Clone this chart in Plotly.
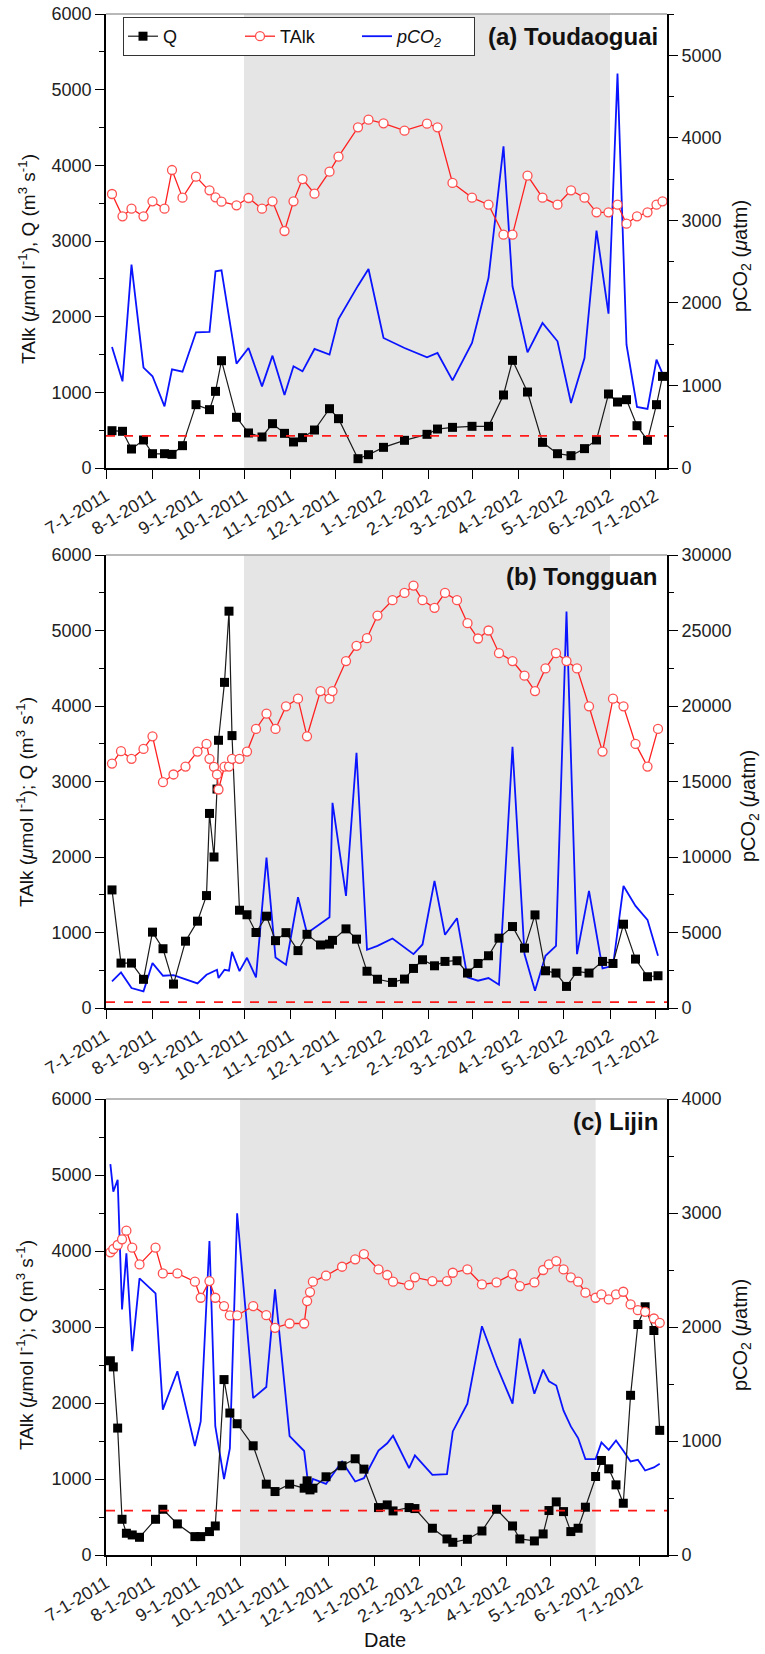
import plotly.graph_objects as go

# ---------------- data ----------------
DATES_A = ["2011-07-05","2011-07-12","2011-07-18","2011-07-26","2011-08-01","2011-08-09","2011-08-14","2011-08-21","2011-08-30","2011-09-08","2011-09-12","2011-09-16","2011-09-26","2011-10-04","2011-10-13","2011-10-20","2011-10-28","2011-11-03","2011-11-09","2011-11-17","2011-11-27","2011-12-03","2011-12-16","2011-12-23","2012-01-02","2012-01-16","2012-01-31","2012-02-07","2012-02-17","2012-03-01","2012-03-12","2012-03-22","2012-03-28","2012-04-07","2012-04-17","2012-04-27","2012-05-06","2012-05-15","2012-05-23","2012-05-31","2012-06-06","2012-06-12","2012-06-19","2012-06-26","2012-07-02","2012-07-06"]
Q_A = [493,485,251,370,189,189,180,295,837,771,1013,1418,670,463,410,586,458,344,401,502,784,652,123,176,273,366,445,515,537,551,551,965,1423,1004,339,189,163,256,370,978,872,903,559,366,837,1211]
TALK_A = [3621,3326,3427,3326,3524,3427,3938,3573,3850,3670,3577,3520,3471,3568,3427,3524,3132,3524,3819,3626,3916,4115,4502,4604,4555,4458,4551,4502,3767,3573,3480,3084,3084,3863,3573,3480,3670,3573,3379,3379,3480,3229,3326,3379,3480,3524]
PCO2_A = [1466,1050,2464,1216,1111,747,1195,1167,1644,1648,2383,2395,1264,1454,989,1361,884,1232,1171,1442,1373,1805,2209,2411,1575,1454,1341,1393,1062,1515,2302,3897,2201,1401,1757,1535,788,1333,2876,1870,4778,1494,739,715,1313,1143]

DATES_B = ["2011-07-05","2011-07-11","2011-07-18","2011-07-26","2011-08-01","2011-08-08","2011-08-15","2011-08-23","2011-08-31","2011-09-06","2011-09-08","2011-09-11","2011-09-13","2011-09-14","2011-09-18","2011-09-21","2011-09-23","2011-09-28","2011-10-03","2011-10-09","2011-10-16","2011-10-22","2011-10-29","2011-11-06","2011-11-12","2011-11-21","2011-11-27","2011-11-29","2011-12-08","2011-12-15","2011-12-22","2011-12-29","2012-01-08","2012-01-16","2012-01-22","2012-01-28","2012-02-05","2012-02-12","2012-02-20","2012-02-27","2012-03-05","2012-03-12","2012-03-19","2012-03-28","2012-04-05","2012-04-12","2012-04-19","2012-04-26","2012-05-03","2012-05-10","2012-05-18","2012-05-27","2012-06-03","2012-06-10","2012-06-18","2012-06-26","2012-07-03"]
Q_B = [1564,595,595,380,1005,785,317,885,1150,1489,2577,2000,2900,3546,4313,5256,3608,1295,1235,1000,1216,892,998,760,976,835,846,896,1048,912,487,381,339,383,524,639,559,617,626,463,590,692,925,1079,793,1233,493,463,286,485,463,617,590,1110,648,414,427]
TALK_B = [3238,3401,3300,3432,3599,2991,3093,3198,3396,3498,3300,3194,3093,2894,3198,3198,3300,3300,3396,3696,3899,3696,3996,4097,3599,4198,4097,4198,4595,4797,4899,5198,5401,5498,5595,5401,5300,5498,5401,5097,4894,5000,4700,4595,4401,4198,4498,4700,4595,4498,3996,3396,4097,3996,3498,3198,3696]
PCO2_B = [1762,2357,1322,1101,2974,2137,2181,None,1630,2203,None,None,2533,1982,2533,2467,3722,2445,3326,2026,9956,3348,2863,7335,4956,None,6013,13590,7423,16894,3855,4119,4604,None,3568,4207,8414,4846,5947,2026,1806,1982,1542,17297,3568,1145,3458,4119,26264,3568,7753,2621,2797,8084,6762,5837,3458]

DATES_C = ["2011-07-04","2011-07-06","2011-07-09","2011-07-12","2011-07-15","2011-07-19","2011-07-24","2011-08-04","2011-08-09","2011-08-19","2011-08-31","2011-09-04","2011-09-10","2011-09-14","2011-09-20","2011-09-24","2011-09-29","2011-10-10","2011-10-19","2011-10-25","2011-11-04","2011-11-14","2011-11-16","2011-11-18","2011-11-20","2011-11-29","2011-12-10","2011-12-19","2011-12-25","2012-01-04","2012-01-10","2012-01-14","2012-01-25","2012-01-29","2012-02-10","2012-02-20","2012-02-24","2012-03-05","2012-03-15","2012-03-25","2012-04-05","2012-04-10","2012-04-20","2012-04-26","2012-04-30","2012-05-05","2012-05-10","2012-05-15","2012-05-20","2012-05-25","2012-06-01","2012-06-05","2012-06-10","2012-06-15","2012-06-20","2012-06-25","2012-06-30","2012-07-05","2012-07-11","2012-07-15"]
Q_C = [2556,2475,1670,470,286,264,233,470,602,409,242,242,308,382,2308,1868,1727,1437,932,835,932,879,976,857,879,1029,1174,1266,1130,624,659,580,624,611,352,211,167,207,316,602,382,211,185,277,585,699,571,308,352,629,1033,1244,1134,923,681,2101,3033,3266,2954,1640]
TALK_C = [3982,4026,4079,4154,4268,4044,3824,4044,3705,3705,3596,3385,3604,3385,3275,3152,3152,3275,3156,2989,3046,3046,3341,3459,3596,3675,3793,3890,3960,3758,3684,3596,3552,3653,3604,3604,3714,3758,3560,3587,3697,3538,3587,3750,3824,3868,3758,3653,3596,3451,3385,3429,3363,3429,3464,3297,3222,3200,3112,3055]
PCO2_C = [3429,3188,3291,2154,2646,1788,2426,2295,1275,1612,955,1172,2755,1130,665,935,2998,1377,1474,2330,1043,912,700,580,668,624,820,645,674,917,980,1046,762,873,703,709,1084,1327,2007,1662,1327,1899,1415,1626,1524,1486,1266,1128,1026,841,841,988,923,1005,914,821,835,741,768,800]

TICK_DATES = ["2011-07-01","2011-08-01","2011-09-01","2011-10-01","2011-11-01","2011-12-01","2012-01-01","2012-02-01","2012-03-01","2012-04-01","2012-05-01","2012-06-01","2012-07-01"]
TICK_LABELS = ["7-1-2011","8-1-2011","9-1-2011","10-1-2011","11-1-2011","12-1-2011","1-1-2012","2-1-2012","3-1-2012","4-1-2012","5-1-2012","6-1-2012","7-1-2012"]
SHADE_START, SHADE_END = "2011-10-01", "2012-06-01"
ATM_PCO2 = 390
STATIONS = ["(a) Toudaoguai", "(b) Tongguan", "(c) Lijin"]
LEFT_TITLES = ["TAlk (<i>μ</i>mol l<sup>-1</sup>), Q (m<sup>3</sup> s<sup>-1</sup>)",
               "TAlk (<i>μ</i>mol l<sup>-1</sup>); Q (m<sup>3</sup> s<sup>-1</sup>)",
               "TAlk (<i>μ</i>mol l<sup>-1</sup>); Q (m<sup>3</sup> s<sup>-1</sup>)"]
RIGHT_TITLE = "pCO<sub>2</sub> (<i>μ</i>atm)"
X_TITLE = "Date"
PCO2_RANGE = [5500, 30000, 4000]
PCO2_DTICK = [1000, 5000, 1000]
X_END = ["2012-07-09", "2012-07-09", "2012-07-20"]

PANELS = [(DATES_A, Q_A, TALK_A, PCO2_A), (DATES_B, Q_B, TALK_B, PCO2_B), (DATES_C, Q_C, TALK_C, PCO2_C)]

# ---------------- layout geometry (pixels) ----------------
W, H = 765, 1654
ML, MR, MT, MB = 106, 98, 14, 99
PW, PH = W - ML - MR, H - MT - MB
PIX = [(14, 468), (555, 1008), (1099, 1555)]
LEFT_TITLE_POS = [(27, 259), (25, 802), (25, 1345)]
RIGHT_TITLE_POS = [(741, 256), (749, 806), (741, 1335)]
X_TITLE_POS = (385, 1640)

def yfrac(py):
    return 1 - (py - MT) / PH
def xfrac(px):
    return (px - ML) / PW

FONT = "Liberation Sans, Arial, sans-serif"
fig = go.Figure()
layout = dict(width=W, height=H, margin=dict(l=ML, r=MR, t=MT, b=MB, autoexpand=False),
              paper_bgcolor="white", plot_bgcolor="white",
              font=dict(family=FONT, color="#222", size=17),
              showlegend=True, shapes=[], annotations=[])

for i, (d, q, ta, pc) in enumerate(PANELS):
    xn = "x" if i == 0 else f"x{i+1}"
    yr = "y" if i == 0 else f"y{2*i+1}"      # right axis (pCO2), base
    yl = f"y{2*i+2}"                          # left axis (TAlk, Q), overlay
    first = (i == 0)
    fig.add_trace(go.Scatter(x=d, y=q, xaxis=xn, yaxis=yl, name="Q", mode="lines+markers",
                             line=dict(color="#1a1a1a", width=1.2),
                             marker=dict(symbol="square", size=9, color="black"),
                             showlegend=first, legendgroup="q"))
    fig.add_trace(go.Scatter(x=d, y=ta, xaxis=xn, yaxis=yl, name="TAlk", mode="lines+markers",
                             line=dict(color="#ff2020", width=1.3),
                             marker=dict(symbol="circle", size=9, color="white",
                                         line=dict(color="#ff5050", width=1.3)),
                             showlegend=first, legendgroup="t"))
    fig.add_trace(go.Scatter(x=d, y=pc, xaxis=xn, yaxis=yr, name="<i>pCO<sub>2</sub></i>", mode="lines",
                             line=dict(color="#0a14ff", width=1.8), connectgaps=True,
                             showlegend=first, legendgroup="p"))

    top, bot = PIX[i]
    dom = [yfrac(bot), yfrac(top)]
    xkey = "xaxis" if i == 0 else f"xaxis{i+1}"
    yrkey = "yaxis" if i == 0 else f"yaxis{2*i+1}"
    ylkey = f"yaxis{2*i+2}"
    layout[xkey] = dict(domain=[0, 1], anchor=yr, type="date", range=[TICK_DATES[0], X_END[i]],
                        tickmode="array", tickvals=TICK_DATES, ticktext=TICK_LABELS, automargin=False,
                        tickangle=-31, ticks="outside", ticklen=9, tickwidth=1.3, tickcolor="black",
                        showline=True, linecolor="black", linewidth=1.6,
                        showgrid=False, zeroline=False, tickfont=dict(size=18, family=FONT))
    layout[yrkey] = dict(domain=dom, anchor=xn, side="right", range=[0, PCO2_RANGE[i]],
                         dtick=PCO2_DTICK[i], tickformat="d", automargin=False,
                         ticks="outside", ticklen=9, tickwidth=1.3, tickcolor="black",
                         minor=dict(dtick=PCO2_DTICK[i] / 2, ticks="outside", ticklen=5, tickwidth=1.2,
                                    tickcolor="black", showgrid=False),
                         showline=True, linecolor="black", linewidth=1.6,
                         showgrid=False, zeroline=False, tickfont=dict(size=18, family=FONT))
    layout[ylkey] = dict(overlaying=yr, anchor=xn, side="left", range=[0, 6000], dtick=1000,
                         tickformat="d", automargin=False,
                         ticks="outside", ticklen=9, tickwidth=1.3, tickcolor="black",
                         minor=dict(dtick=500, ticks="outside", ticklen=5, tickwidth=1.2,
                                    tickcolor="black", showgrid=False),
                         showline=True, linecolor="black", linewidth=1.6,
                         showgrid=False, zeroline=False, tickfont=dict(size=18, family=FONT))
    xd = f"{xn} domain"
    yd = f"{yr} domain"
    layout["shapes"].append(dict(type="rect", xref=xn, yref=yd, x0=SHADE_START, x1=SHADE_END,
                                 y0=0, y1=1, fillcolor="#e5e5e5", line=dict(width=0), layer="below"))
    layout["shapes"].append(dict(type="line", xref=xd, yref=yr, x0=0, x1=1, y0=ATM_PCO2, y1=ATM_PCO2,
                                 line=dict(color="#ff1a1a", width=1.8, dash="dash")))
    layout["shapes"].append(dict(type="line", xref=xd, yref=yd, x0=0, x1=1, y0=1, y1=1,
                                 line=dict(color="#a0a0a0", width=1.6)))
    layout["annotations"].append(dict(text=f"<b>{STATIONS[i]}</b>", xref=xd, yref=yd,
                                      x=0.988, y=1 - 22 / (bot - top), xanchor="right", yanchor="middle",
                                      showarrow=False, font=dict(size=24, family=FONT, color="#111")))
    lx, ly = LEFT_TITLE_POS[i]
    layout["annotations"].append(dict(text=LEFT_TITLES[i], xref="paper", yref="paper",
                                      x=xfrac(lx), y=yfrac(ly), xanchor="center", yanchor="middle",
                                      textangle=-90, showarrow=False,
                                      font=dict(size=19, family=FONT, color="#111")))
    rx, ry = RIGHT_TITLE_POS[i]
    layout["annotations"].append(dict(text=RIGHT_TITLE, xref="paper", yref="paper",
                                      x=xfrac(rx), y=yfrac(ry), xanchor="center", yanchor="middle",
                                      textangle=-90, showarrow=False,
                                      font=dict(size=20, family=FONT, color="#111")))

layout["annotations"].append(dict(text=X_TITLE, xref="paper", yref="paper",
                                  x=xfrac(X_TITLE_POS[0]), y=yfrac(X_TITLE_POS[1]),
                                  xanchor="center", yanchor="middle", showarrow=False,
                                  font=dict(size=20, family=FONT, color="#111")))

layout["legend"] = dict(x=17 / PW, y=yfrac(17), xanchor="left", yanchor="top",
                        orientation="h", bordercolor="#333", borderwidth=1, bgcolor="white",
                        font=dict(size=18, family=FONT, color="#111"),
                        entrywidth=72, tracegroupgap=0)
fig.update_layout(**layout)
fig.write_html("out.html", config={"displayModeBar": False},
               post_script="document.body.style.margin='0';document.body.style.overflow='hidden';")
